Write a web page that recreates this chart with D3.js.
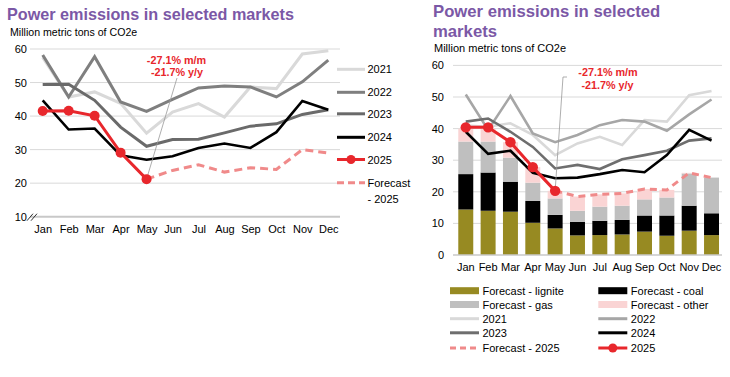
<!DOCTYPE html>
<html><head><meta charset="utf-8">
<script src="https://cdn.jsdelivr.net/npm/d3@7"></script>
<style>
html,body{margin:0;padding:0;background:#fff;}
svg{display:block;font-family:"Liberation Sans",Arial,sans-serif;}
</style></head>
<body>
<svg id="c" width="730" height="377"></svg>
<script>
const months = ["Jan","Feb","Mar","Apr","May","Jun","Jul","Aug","Sep","Oct","Nov","Dec"];

// Left panel
const leftTicks = [10,20,30,40,50,60];
const left2021 = [57.5,45.7,47.2,43.8,34.9,41.2,43.7,39.7,48.7,48.2,58.5,59.5];
const left2022 = [58.2,45.7,57.7,44.2,41.4,45.0,48.4,49.0,48.7,45.7,50.2,56.7];
const left2023 = [49.4,49.5,44.7,36.7,31.0,33.0,33.1,35.0,37.0,37.7,40.5,41.9];
const left2024 = [44.7,36.0,36.3,28.3,27.0,28.0,30.5,31.8,30.5,35.2,44.5,41.9];
const left2025 = [41.5,41.6,40.1,29.1,21.2,null,null,null,null,null,null,null];
const leftForecast2025 = [null,null,null,null,21.2,23.8,25.5,23.3,24.6,24.1,30.0,29.0];

// Right panel
const rightTicks = [0,10,20,30,40,50,60];
const right2021 = [41.0,40.6,41.7,38.0,31.6,35.3,37.4,34.8,42.7,42.2,50.6,51.9];
const right2022 = [50.8,39.6,50.3,38.5,35.7,38.0,41.1,42.7,42.2,39.3,44.5,49.2];
const right2023 = [42.2,43.2,39.0,34.2,27.4,28.5,27.2,30.3,31.6,33.0,36.2,36.9];
const right2024 = [39.0,32.0,33.0,26.0,24.3,24.5,25.6,26.9,26.2,31.6,39.6,36.2];
const right2025 = [40.4,40.4,35.7,27.8,20.3,null,null,null,null,null,null,null];
const rightForecast2025 = [null,null,null,null,20.3,18.5,19.2,19.5,20.9,20.6,26.0,24.5];
const fcLignite = [14.4,14.0,13.7,10.2,8.4,6.2,6.3,6.5,7.4,6.1,7.7,6.3];
const fcCoal    = [11.2,12.1,9.5,6.9,4.3,4.3,4.5,4.6,5.1,6.4,7.9,6.9];
const fcGas     = [10.3,9.8,7.6,5.8,5.2,3.5,4.5,4.5,5.1,5.7,10.2,11.3];
const fcOther   = [4.1,4.1,4.9,4.9,2.4,4.5,3.9,3.9,3.3,2.4,0.2,0.0];

const annot = ["-27.1% m/m","-21.7% y/y"];
const titleText = "Power emissions in selected markets";
const subText = "Million metric tons of CO2e";

const C = {
  purple:"#7b58a6", c2021:"#d9d9d9", c2022L:"#7f7f7f", c2023L:"#6a6a6a", c2022R:"#a6a6a6", c2023R:"#6e6e6e",
  c2024:"#000", red:"#e8272c", fc:"#f08a8a", lignite:"#978a22", coal:"#000", gas:"#bfbfbf", other:"#fad4d4", grid:"#d9d9d9"
};

const svg = d3.select("#c");

// ================= LEFT =================
{
  const g = svg.append("g");
  g.append("text").attr("x",7).attr("y",20).attr("fill",C.purple).attr("font-weight","bold")
    .attr("font-size","16.2px").text(titleText);
  g.append("text").attr("x",10).attr("y",36).attr("font-size","10.6px").attr("fill","#000").text(subText);

  const x = d3.scalePoint().domain(months).range([42.7,328.3]);
  const y = d3.scaleLinear().domain([10,60]).range([216.7,49]);

  // grid
  g.selectAll(".gl").data(leftTicks.filter(t=>t>10)).join("line")
    .attr("x1",30).attr("x2",340).attr("y1",d=>y(d)).attr("y2",d=>y(d))
    .attr("stroke",C.grid).attr("stroke-width",1);
  g.append("line").attr("x1",30).attr("x2",340).attr("y1",y(10)).attr("y2",y(10))
    .attr("stroke","#c8c8c8").attr("stroke-width",2);
  // axis break
  [0,4].forEach(o=>g.append("line").attr("x1",27+o).attr("y1",y(10)+4).attr("x2",33+o).attr("y2",y(10)-3)
    .attr("stroke","#333").attr("stroke-width",1));
  const yAx = d3.axisLeft(y).tickValues(leftTicks).tickSize(0).tickPadding(0);
  const ya = g.append("g").attr("transform","translate(27,0)").call(yAx);
  ya.select(".domain").remove();
  ya.selectAll("text").attr("font-size","11px").attr("fill","#000").attr("font-family","Liberation Sans, Arial");
  const xAx = d3.axisBottom(x).tickSize(0).tickPadding(0);
  const xa = g.append("g").attr("transform","translate(0,225)").call(xAx);
  xa.select(".domain").remove();
  xa.selectAll("text").attr("font-size","11px").attr("fill","#000").attr("font-family","Liberation Sans, Arial");

  const line = d3.line().defined(d=>d!=null).x((d,i)=>x(months[i])).y(d=>y(d));
  const draw = (arr,col,w,dash)=>g.append("path").datum(arr).attr("d",line).attr("fill","none")
    .attr("stroke",col).attr("stroke-width",w).attr("stroke-dasharray",dash||null).attr("stroke-linejoin","miter");
  draw(left2021,C.c2021,3);
  draw(left2022,C.c2022L,3);
  draw(left2023,C.c2023L,3);
  draw(left2024,C.c2024,2.6);
  // leader line
  g.append("line").attr("x1",x("May")).attr("y1",y(left2025[4])).attr("x2",177).attr("y2",78)
    .attr("stroke","#999").attr("stroke-width",0.8);
  draw(leftForecast2025,C.fc,3,"8,5");
  draw(left2025,C.red,3);
  g.selectAll(".d25").data(left2025.map((v,i)=>[v,i]).filter(d=>d[0]!=null)).join("circle")
    .attr("cx",d=>x(months[d[1]])).attr("cy",d=>y(d[0])).attr("r",5).attr("fill",C.red);
  g.append("text").attr("x",176.5).attr("y",63.5).attr("text-anchor","middle").attr("font-weight","bold")
    .attr("font-size","10.8px").attr("fill",C.red).text(annot[0]);
  g.append("text").attr("x",177).attr("y",75.5).attr("text-anchor","middle").attr("font-weight","bold")
    .attr("font-size","10.8px").attr("fill",C.red).text(annot[1]);

  // legend
  const leg = [
    {t:"2021",c:C.c2021,y:69.3},{t:"2022",c:C.c2022L,y:92.3},{t:"2023",c:C.c2023L,y:113.8},
    {t:"2024",c:C.c2024,y:137.3},{t:"2025",c:C.red,y:159.5,dot:true},{t:"Forecast",c:C.fc,y:182.7,dash:true,t2:"- 2025"}
  ];
  leg.forEach(l=>{
    g.append("line").attr("x1",337).attr("x2",365).attr("y1",l.y).attr("y2",l.y).attr("stroke",l.c)
      .attr("stroke-width",3).attr("stroke-dasharray",l.dash?"7,4":null);
    if(l.dot) g.append("circle").attr("cx",351).attr("cy",l.y).attr("r",4.5).attr("fill",l.c);
    g.append("text").attr("x",367.5).attr("y",l.y+4).attr("font-size","11px").attr("fill","#000").text(l.t);
    if(l.t2) g.append("text").attr("x",367.5).attr("y",l.y+20).attr("font-size","11px").attr("fill","#000").text(l.t2);
  });
}

// ================= RIGHT =================
{
  const g = svg.append("g");
  g.append("text").attr("x",433).attr("y",17).attr("fill",C.purple).attr("font-weight","bold")
    .attr("font-size","16.7px").text("Power emissions in selected");
  g.append("text").attr("x",433).attr("y",37).attr("fill",C.purple).attr("font-weight","bold")
    .attr("font-size","16.7px").text("markets");
  g.append("text").attr("x",434).attr("y",51.5).attr("font-size","11px").attr("fill","#000").text(subText);

  const x = d3.scaleBand().domain(months).range([454.6,722.7]).paddingInner(0.33).paddingOuter(0.165);
  const xc = m=>x(m)+x.bandwidth()/2;
  const y = d3.scaleLinear().domain([0,60]).range([255,65.4]);

  g.selectAll(".gl").data(rightTicks.filter(t=>t>0)).join("line")
    .attr("x1",453).attr("x2",722).attr("y1",d=>y(d)).attr("y2",d=>y(d))
    .attr("stroke",C.grid).attr("stroke-width",1);
  const yAx = d3.axisLeft(y).tickValues(rightTicks).tickSize(0).tickPadding(0);
  const ya = g.append("g").attr("transform","translate(444,0)").call(yAx);
  ya.select(".domain").remove();
  ya.selectAll("text").attr("font-size","11px").attr("fill","#000").attr("font-family","Liberation Sans, Arial");

  // stacked bars
  const rows = months.map((m,i)=>({m,lignite:fcLignite[i],coal:fcCoal[i],gas:fcGas[i],other:fcOther[i]}));
  const keys = ["lignite","coal","gas","other"];
  const stack = d3.stack().keys(keys)(rows);
  const col = {lignite:C.lignite,coal:C.coal,gas:C.gas,other:C.other};
  stack.forEach(s=>{
    g.selectAll(".b"+s.key).data(s).join("rect")
      .attr("x",d=>x(d.data.m)).attr("width",x.bandwidth())
      .attr("y",d=>y(d[1])).attr("height",d=>Math.max(0,y(d[0])-y(d[1])))
      .attr("fill",col[s.key]);
  });
  g.append("line").attr("x1",453).attr("x2",722).attr("y1",y(0)).attr("y2",y(0))
    .attr("stroke","#c8c8c8").attr("stroke-width",1.5);

  const xAx = d3.axisBottom(x).tickSize(0).tickPadding(0);
  const xa = g.append("g").attr("transform","translate(0,263)").call(xAx);
  xa.select(".domain").remove();
  xa.selectAll("text").attr("font-size","11px").attr("fill","#000").attr("font-family","Liberation Sans, Arial");

  const line = d3.line().defined(d=>d!=null).x((d,i)=>xc(months[i])).y(d=>y(d));
  const draw = (arr,c,w,dash)=>g.append("path").datum(arr).attr("d",line).attr("fill","none")
    .attr("stroke",c).attr("stroke-width",w).attr("stroke-dasharray",dash||null);
  draw(right2021,C.c2021,2.6);
  draw(right2022,C.c2022R,2.6);
  draw(right2023,C.c2023R,2.6);
  draw(right2024,C.c2024,2.6);
  // leader
  g.append("polyline").attr("points",`${xc("May")},${y(right2025[4])} 563,77 567,77`)
    .attr("fill","none").attr("stroke","#999").attr("stroke-width",0.8);
  draw(rightForecast2025,C.fc,3,"7,5");
  draw(right2025,C.red,3);
  g.selectAll(".d25").data(right2025.map((v,i)=>[v,i]).filter(d=>d[0]!=null)).join("circle")
    .attr("cx",d=>xc(months[d[1]])).attr("cy",d=>y(d[0])).attr("r",5.2).attr("fill",C.red);
  g.append("text").attr("x",608).attr("y",75.5).attr("text-anchor","middle").attr("font-weight","bold")
    .attr("font-size","10.8px").attr("fill",C.red).text(annot[0]);
  g.append("text").attr("x",607.5).attr("y",88.5).attr("text-anchor","middle").attr("font-weight","bold")
    .attr("font-size","10.8px").attr("fill",C.red).text(annot[1]);

  // legend
  const leg = [
    {t:"Forecast - lignite",c:C.lignite,rect:true,col:0,r:0},
    {t:"Forecast - coal",c:C.coal,rect:true,col:1,r:0},
    {t:"Forecast - gas",c:C.gas,rect:true,col:0,r:1},
    {t:"Forecast - other",c:C.other,rect:true,col:1,r:1},
    {t:"2021",c:C.c2021,col:0,r:2},{t:"2022",c:C.c2022R,col:1,r:2},
    {t:"2023",c:C.c2023R,col:0,r:3},{t:"2024",c:C.c2024,col:1,r:3},
    {t:"Forecast - 2025",c:C.fc,dash:true,col:0,r:4},{t:"2025",c:C.red,dot:true,col:1,r:4}
  ];
  const rowY = [290.7,304.5,318.7,332.8,348];
  const colX = [450,598.3];
  leg.forEach(l=>{
    const yy = rowY[l.r], x0 = colX[l.col];
    if(l.rect) g.append("rect").attr("x",x0).attr("y",yy-3.5).attr("width",29).attr("height",7).attr("fill",l.c);
    else g.append("line").attr("x1",x0).attr("x2",x0+29).attr("y1",yy).attr("y2",yy).attr("stroke",l.c)
      .attr("stroke-width",3).attr("stroke-dasharray",l.dash?"6,4":null);
    if(l.dot) g.append("circle").attr("cx",x0+14.5).attr("cy",yy).attr("r",4.5).attr("fill",l.c);
    g.append("text").attr("x",x0+32.5).attr("y",yy+4).attr("font-size","11px").attr("fill","#000").text(l.t);
  });
}
</script>
</body></html>
